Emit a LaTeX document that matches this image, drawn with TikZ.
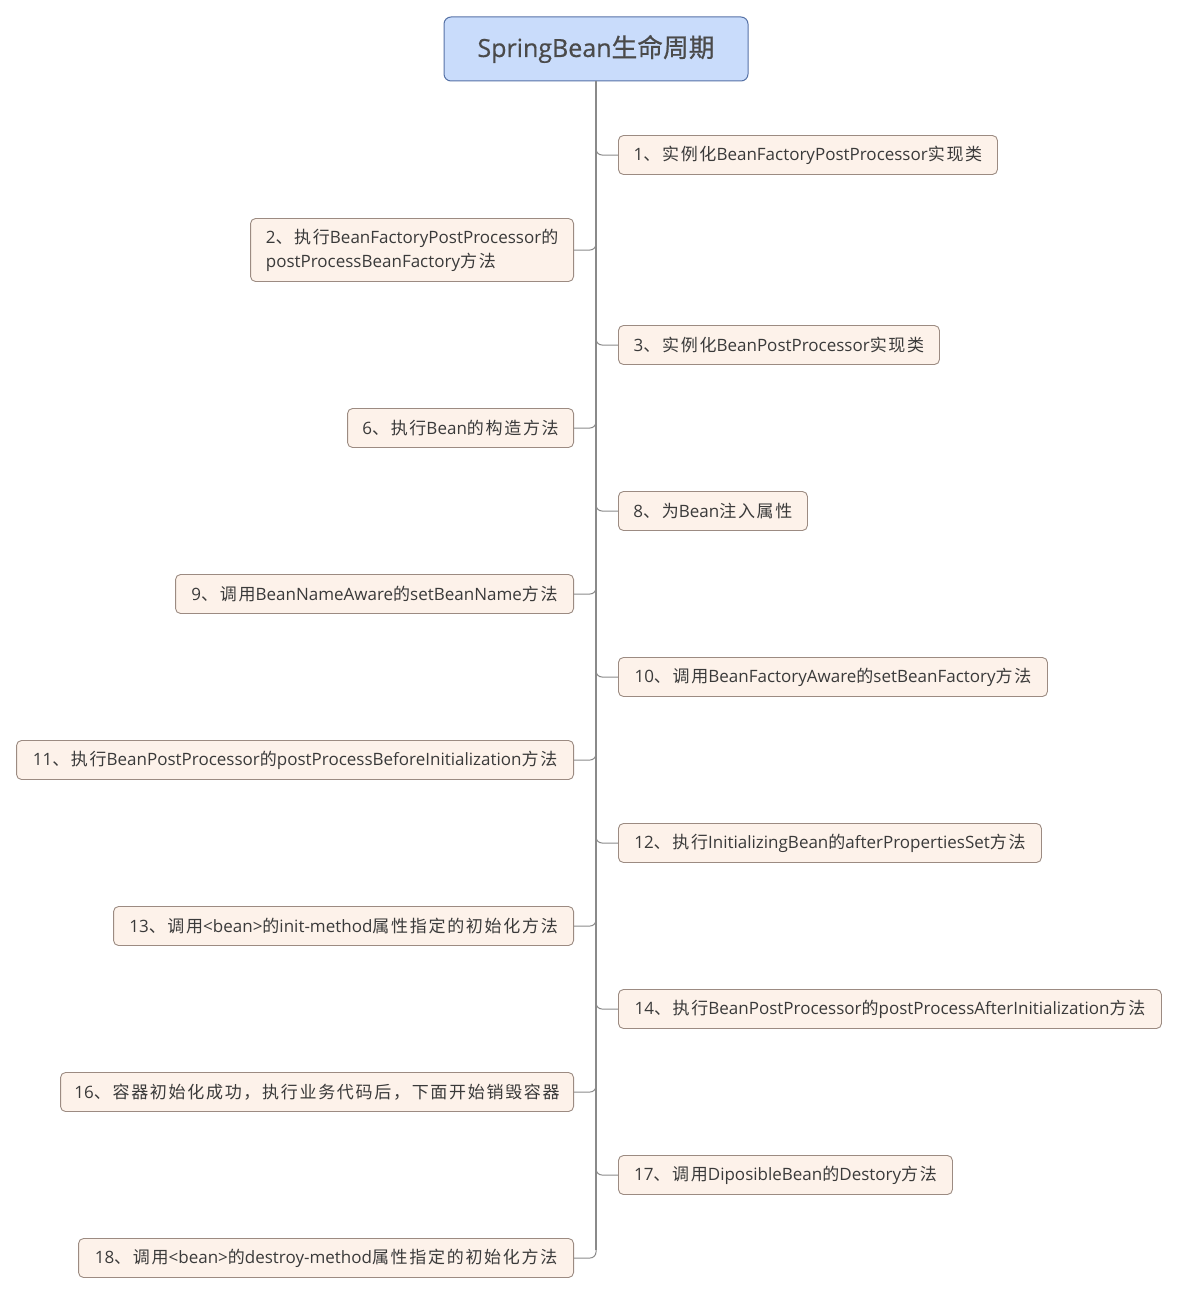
\documentclass[tikz,border=0pt]{standalone}
\usepackage{fontspec}
\setmainfont{Open Sans}
\newfontfamily\zhfont{Noto Sans CJK SC}[Scale=1.0,LetterSpace=10]
\newfontfamily\rootlat{Open Sans}[FakeBold=0.6]
\newfontfamily\rootzh{Noto Sans CJK SC}[FakeBold=0.6,Scale=1.03]
\newcommand{\zh}[1]{{\zhfont #1}}
\newcommand{\rzh}[1]{{\rootzh #1}}
\definecolor{rootfill}{HTML}{C9DCFB}
\definecolor{rootdraw}{HTML}{5672A6}
\definecolor{kidfill}{HTML}{FDF2EA}
\definecolor{kiddraw}{HTML}{9C8B82}
\definecolor{txt}{HTML}{3A3A3A}
\definecolor{roottxt}{HTML}{4A4A4A}
\definecolor{linec}{HTML}{8A8A8A}
\tikzset{
  rootbox/.style={draw=rootdraw, fill=rootfill, rounded corners=7pt, line width=1pt,
    minimum width=304pt, minimum height=64pt, inner sep=0pt, text=roottxt,
    font=\fontsize{25pt}{30pt}\rootlat},
  kid/.style={draw=kiddraw, fill=kidfill, rounded corners=5pt, line width=0.9pt,
    minimum height=39pt, inner xsep=3pt, inner ysep=0pt, text=txt,
    font=\fontsize{17pt}{24pt}\selectfont},
  rk/.style={kid, anchor=west, minimum width=#1},
  lk/.style={kid, anchor=east, minimum width=#1},
  conn/.style={draw=linec, line width=1pt, rounded corners=6pt},
  trunk/.style={draw=linec, line width=1.6pt}
}
\begin{document}
\begin{tikzpicture}[x=1pt,y=-1pt]
\useasboundingbox (0,0) rectangle (1178,1295);
\node[rootbox] (root) at (596,49) {SpringBean\rzh{生命周期}};
\coordinate (tend) at (596,1250);
% right nodes
\node[rk=379pt] (n1) at (618,155) {1\zh{、实例化}BeanFactoryPostProcessor\zh{实现类}};
\node[rk=321pt] (n3) at (618,345) {3\zh{、实例化}BeanPostProcessor\zh{实现类}};
\node[rk=189pt] (n8) at (618,511) {8\zh{、为}Bean\zh{注入属性}};
\node[rk=429pt] (n10) at (618,677) {10\zh{、调用}BeanFactoryAware\zh{的}setBeanFactory\zh{方法}};
\node[rk=423pt] (n12) at (618,843) {12\zh{、执行}InitializingBean\zh{的}afterPropertiesSet\zh{方法}};
\node[rk=543pt] (n14) at (618,1009) {14\zh{、执行}BeanPostProcessor\zh{的}postProcessAfterInitialization\zh{方法}};
\node[rk=334pt] (n17) at (618,1175) {17\zh{、调用}DiposibleBean\zh{的}Destory\zh{方法}};
% left nodes
\node[lk=323pt, minimum height=63pt, align=left, inner xsep=12pt] (n2) at (574,250) {2\zh{、执行}BeanFactoryPostProcessor\zh{的}\\postProcessBeanFactory\zh{方法}};
\node[lk=226pt] (n6) at (574,428) {6\zh{、执行}Bean\zh{的构造方法}};
\node[lk=398pt] (n9) at (574,594) {9\zh{、调用}BeanNameAware\zh{的}setBeanName\zh{方法}};
\node[lk=557pt] (n11) at (574,760) {11\zh{、执行}BeanPostProcessor\zh{的}postProcessBeforeInitialization\zh{方法}};
\node[lk=460pt] (n13) at (574,926) {13\zh{、调用}<bean>\zh{的}init-method\zh{属性指定的初始化方法}};
\node[lk=513pt] (n16) at (574,1092) {16\zh{、容器初始化成功，执行业务代码后，下面开始销毁容器}};
\node[lk=495pt] (n18) at (574,1258) {18\zh{、调用}<bean>\zh{的}destroy-method\zh{属性指定的初始化方法}};
% connectors
\draw[trunk] (root.south) -- (tend);
\foreach \n in {n1,n3,n8,n10,n12,n14,n17,n2,n6,n9,n11,n13,n16,n18}
  \draw[conn] (root.south) |- (\n);
\end{tikzpicture}
\end{document}
